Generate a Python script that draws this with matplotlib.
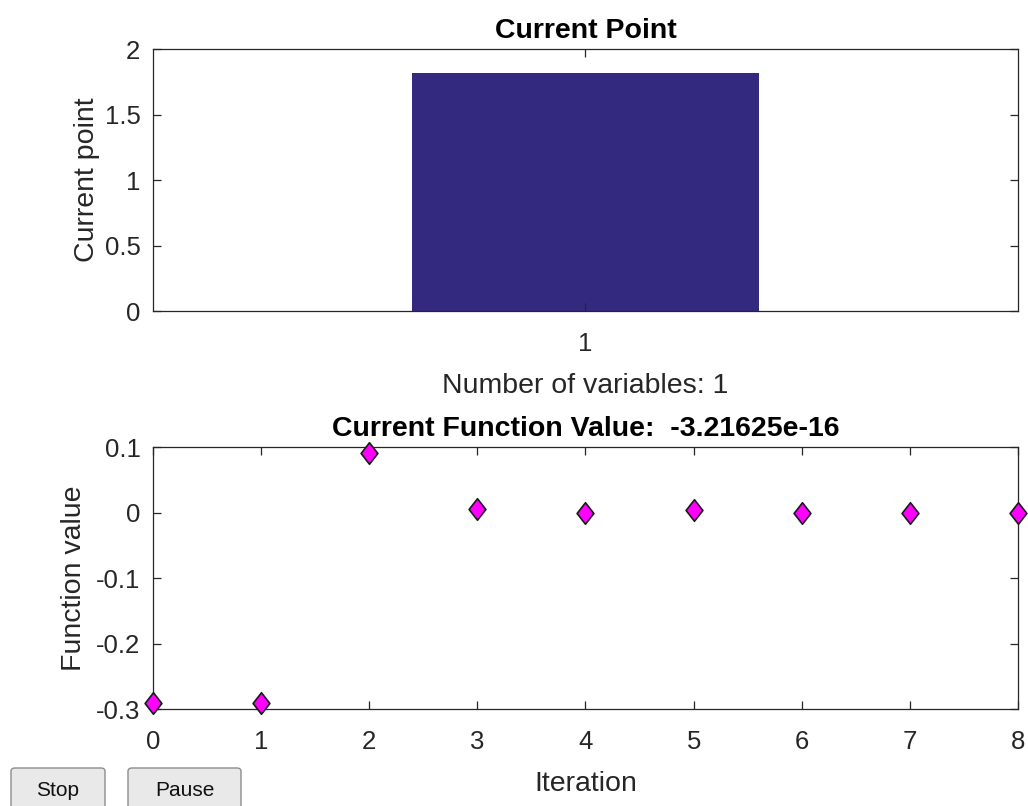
import numpy as np
import matplotlib
matplotlib.use("Agg")
import matplotlib.pyplot as plt
from matplotlib.patches import FancyBboxPatch
from matplotlib.path import Path

# data
var_index = [1]
current_point = [1.8145]

iterations = [0, 1, 2, 3, 4, 5, 6, 7, 8]
fvals = [-0.2914, -0.2914, 0.0905, 0.0056, 0.0, 0.0035, 0.0, 0.0, 0.0]

top_yticks = [0, 0.5, 1, 1.5, 2]
top_yticklabels = ["0", "0.5", "1", "1.5", "2"]
bot_yticks = [-0.3, -0.2, -0.1, 0, 0.1]
bot_yticklabels = ["-0.3", "-0.2", "-0.1", "0", "0.1"]
bot_xticks = [0, 1, 2, 3, 4, 5, 6, 7, 8]

plt.rcParams['font.family'] = ['Liberation Sans', 'DejaVu Sans']
plt.rcParams['axes.unicode_minus'] = False

fg = '#262626'
tick_fs = 18.5
lab_fs = 20.5

fig = plt.figure(figsize=(10.28, 8.06), dpi=100)
fig.patch.set_facecolor('white')

ax1 = fig.add_axes([0.1488, 0.6141, 0.8415, 0.3251])
ax2 = fig.add_axes([0.1488, 0.1203, 0.8415, 0.3251])


def style_axes(ax):
    for s in ax.spines.values():
        s.set_color(fg)
        s.set_linewidth(0.9)
    ax.tick_params(direction='in', length=6, width=0.9, colors=fg,
                   labelsize=tick_fs, top=True, right=True)
    ax.tick_params(axis='x', pad=15)
    ax.tick_params(axis='y', pad=9)


# top: current point bar
ax1.bar(var_index, current_point, width=0.8, color='#33297f', edgecolor='none')
ax1.set_xlim(0, 2)
ax1.set_ylim(0, 2)
ax1.set_xticks(var_index)
ax1.set_yticks(top_yticks)
ax1.set_yticklabels(top_yticklabels)
style_axes(ax1)
ax1.set_title("Current Point", fontsize=lab_fs, fontweight='bold', pad=8)
ax1.set_xlabel("Number of variables: 1", fontsize=lab_fs, color=fg)
ax1.set_ylabel("Current point", fontsize=lab_fs, color=fg)
ax1.xaxis.set_label_coords(0.5, -0.2366)
ax1.yaxis.set_label_coords(-0.061, 0.5)

# bottom: function value per iteration
diamond = Path([(0, 1), (0.78, 0), (0, -1), (-0.78, 0), (0, 1)],
               [Path.MOVETO, Path.LINETO, Path.LINETO, Path.LINETO, Path.CLOSEPOLY])
ax2.plot(iterations, fvals, linestyle='none', marker=diamond, markersize=15.5,
         markerfacecolor='#ff00ff', markeredgecolor='#1a1a1a',
         markeredgewidth=1.2, clip_on=False, zorder=5)
ax2.set_xlim(0, 8)
ax2.set_ylim(-0.3, 0.1)
ax2.set_xticks(bot_xticks)
ax2.set_yticks(bot_yticks)
ax2.set_yticklabels(bot_yticklabels)
style_axes(ax2)
ax2.set_title("Current Function Value:  -3.21625e-16", fontsize=lab_fs,
              fontweight='bold', pad=8)
ax2.set_xlabel("Iteration", fontsize=lab_fs, color=fg)
ax2.set_ylabel("Function value", fontsize=lab_fs, color=fg)
ax2.xaxis.set_label_coords(0.5, -0.2366)
ax2.yaxis.set_label_coords(-0.076, 0.5)

# Stop / Pause buttons (run off the bottom edge like in the screenshot)
W, H = 1028, 806
for label, x0, x1 in [("Stop", 11, 105), ("Pause", 128, 241)]:
    btn = FancyBboxPatch((x0 / W, -8 / H), (x1 - x0) / W, 46 / H,
                         boxstyle="round,pad=0,rounding_size=0.004",
                         transform=fig.transFigure, facecolor='#e9e9e9',
                         edgecolor='#8c8c8c', linewidth=1.0)
    fig.patches.append(btn)
    fig.text((x0 + x1) / 2 / W, 15 / H, label, ha='center', va='center',
             fontsize=15, color='#111111')

fig.savefig("out.png", dpi=100)
